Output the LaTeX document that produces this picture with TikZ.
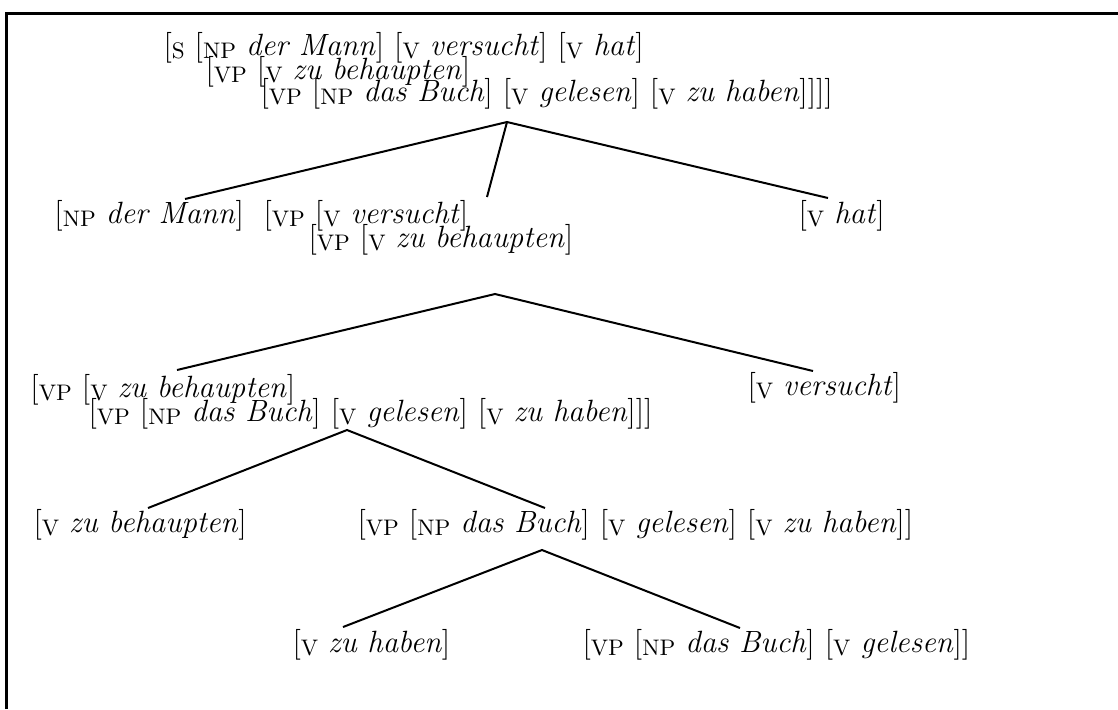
\documentclass[tikz,border=0pt]{standalone}
\newcommand\syncat[1]{\raisebox{-1.2pt}{\fontsize{9}{10}\selectfont #1}}
\begin{document}
\begin{tikzpicture}[x=0.4pt,y=-0.4pt,
  lbl/.style={inner sep=0pt,anchor=base west,font=\fontsize{12.3}{14}\selectfont},
  branch/.style={line width=0.8pt},
  frame/.style={line width=1.2pt}]
\useasboundingbox (0,0) rectangle (1118,709);
% frame
\coordinate (fa) at (6,709);
\coordinate (fb) at (6,13);
\coordinate (fc) at (1118,13);
\draw[frame] (fa) -- (fb) -- (fc);

% level 1
\node[lbl] (r1a) at (163,55) {[\syncat{S} [\syncat{NP} \textit{der Mann}] [\syncat{V} \textit{versucht}] [\syncat{V} \textit{hat}]};
\node[lbl] (r1b) at (205,79) {[\syncat{VP} [\syncat{V} \textit{zu behaupten}]};
\node[lbl] (r1c) at (260,101) {[\syncat{VP} [\syncat{NP} \textit{das Buch}] [\syncat{V} \textit{gelesen}] [\syncat{V} \textit{zu haben}]]]]};

% level 2
\node[lbl] (r2a) at (54,223) {[\syncat{NP} \textit{der Mann}]};
\node[lbl] (r2b) at (263,223) {[\syncat{VP} [\syncat{V} \textit{versucht}]};
\node[lbl] (r2c) at (308,247) {[\syncat{VP} [\syncat{V} \textit{zu behaupten}]};
\node[lbl] (r2d) at (798,223) {[\syncat{V} \textit{hat}]};

% level 3
\node[lbl] (r3a) at (30,397) {[\syncat{VP} [\syncat{V} \textit{zu behaupten}]};
\node[lbl] (r3b) at (88,421) {[\syncat{VP} [\syncat{NP} \textit{das Buch}] [\syncat{V} \textit{gelesen}] [\syncat{V} \textit{zu haben}]]]};
\node[lbl] (r3c) at (747,395) {[\syncat{V} \textit{versucht}]};

% level 4
\node[lbl] (r4a) at (33,532) {[\syncat{V} \textit{zu behaupten}]};
\node[lbl] (r4b) at (357,532) {[\syncat{VP} [\syncat{NP} \textit{das Buch}] [\syncat{V} \textit{gelesen}] [\syncat{V} \textit{zu haben}]]};

% level 5
\node[lbl] (r5a) at (292,652) {[\syncat{V} \textit{zu haben}]};
\node[lbl] (r5b) at (582,652) {[\syncat{VP} [\syncat{NP} \textit{das Buch}] [\syncat{V} \textit{gelesen}]]};

% branch points
\coordinate (p1) at (507,122);
\coordinate (p1a) at (185,199);
\coordinate (p1b) at (487,197);
\coordinate (p1c) at (828,198);
\coordinate (p2) at (495,294);
\coordinate (p2a) at (177,370);
\coordinate (p2b) at (813,371);
\coordinate (p3) at (347,430);
\coordinate (p3a) at (148,508);
\coordinate (p3b) at (545,508);
\coordinate (p4) at (542,550);
\coordinate (p4a) at (343,627);
\coordinate (p4b) at (740,628);

\draw[branch] (p1a) -- (p1) -- (p1c);
\draw[branch] (p1) -- (p1b);
\draw[branch] (p2a) -- (p2) -- (p2b);
\draw[branch] (p3a) -- (p3) -- (p3b);
\draw[branch] (p4a) -- (p4) -- (p4b);
\end{tikzpicture}
\end{document}
